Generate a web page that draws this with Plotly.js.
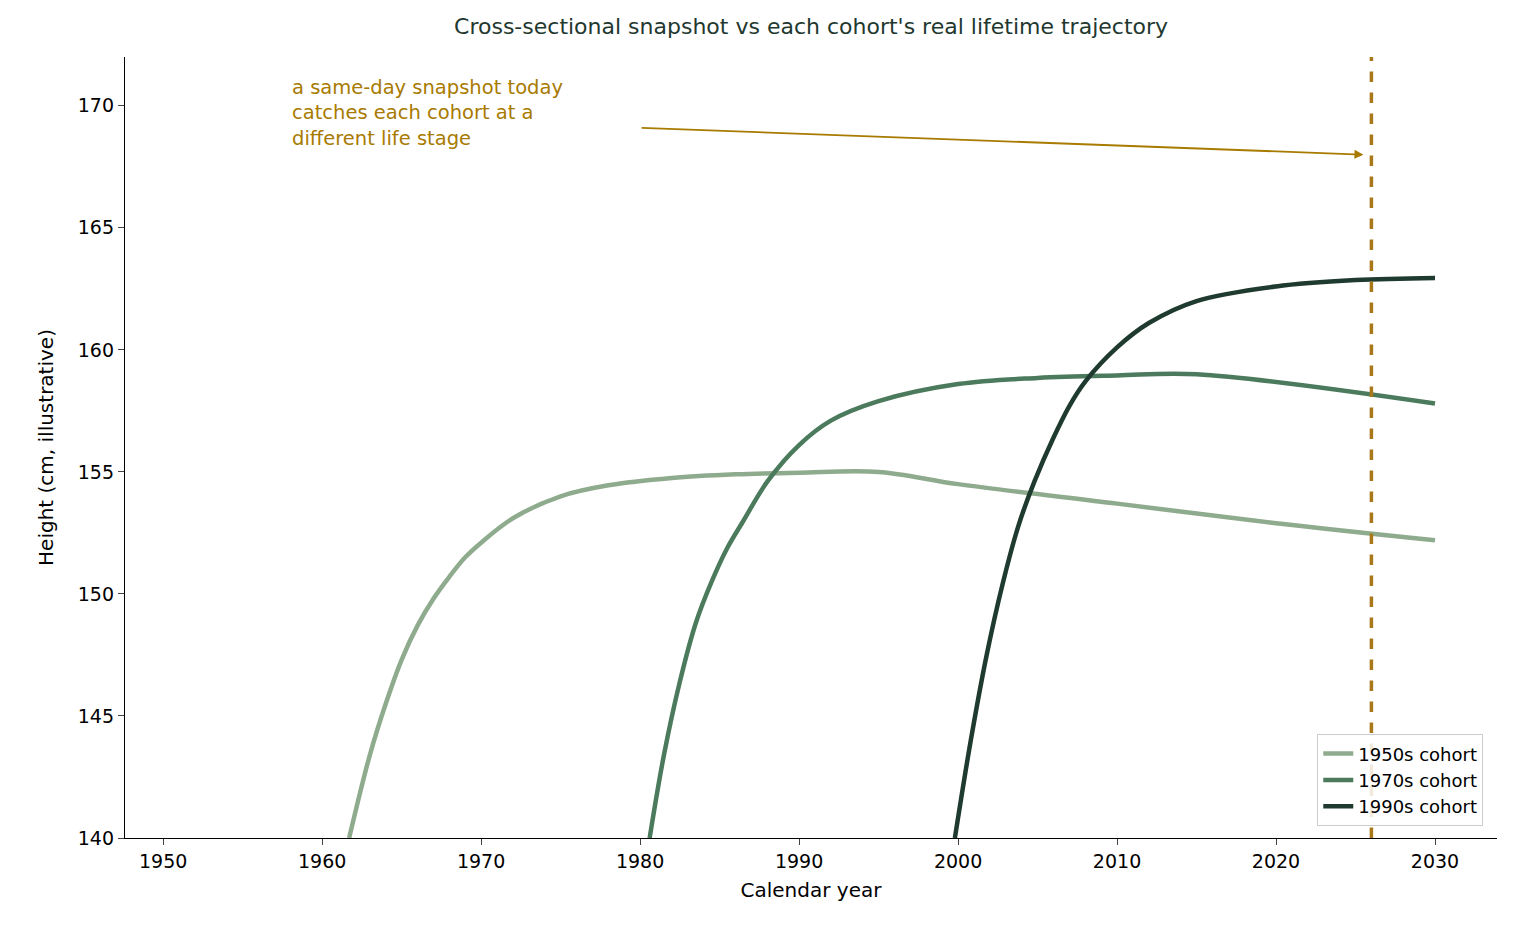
<html><head><script src="https://cdn.plot.ly/plotly-3.0.1.min.js"></script></head>
<body style="margin:0"><div id="chart" style="width:1516px;height:940px"></div>
<script>
// cohort trajectories
const years1950 = [1961.7,1963,1964,1965,1966,1967,1968,1969,1970,1972,1975,1978,1982,1986,1990,1995,2000,2010,2020,2030];
const height1950 = [140,143.4,145.5,147.3,148.7,149.8,150.7,151.5,152.1,153.1,154.0,154.45,154.75,154.9,154.97,155,154.5,153.7,152.9,152.2];
const years1970 = [1980.6,1981.5,1982.5,1983.5,1984.5,1985.5,1986.5,1988,1990,1992,1995,2000,2005,2010,2015,2030];
const height1970 = [140,143.4,146.4,148.8,150.5,151.9,153.0,154.6,156.1,157.1,157.9,158.6,158.85,158.95,159,157.8];
const years1990 = [1999.8,2000.8,2001.8,2002.8,2003.8,2004.8,2006,2007,2008,2010,2012,2015,2020,2025,2030];
const height1990 = [140,144.0,147.5,150.4,152.8,154.6,156.4,157.7,158.7,160.1,161.1,162.0,162.6,162.86,162.95];
const snapshotYear = 2026;
const cohortNames = ['1950s cohort','1970s cohort','1990s cohort'];
const colors = ['#8fab8d','#4b7a5d','#1f3a2e'];

const series = [[years1950,height1950],[years1970,height1970],[years1990,height1990]];
const traces = series.map((s,i) => ({
    x: s[0], y: s[1], mode: 'lines', name: cohortNames[i],
    line: {color: colors[i], width: 4.5, shape: 'spline', smoothing: 1}
}));

const layout = {
    width: 1516, height: 940,
    margin: {l: 125, r: 19, t: 57, b: 102},
    paper_bgcolor: 'white', plot_bgcolor: 'white',
    font: {family: 'DejaVu Sans', size: 19, color: '#000'},
    title: {text: "Cross-sectional snapshot vs each cohort's real lifetime trajectory",
            font: {size: 22, color: '#22382f'}, x: 0.535, xanchor: 'center', y: 0.98, yanchor: 'top'},
    xaxis: {range: [1947.6, 2033.9], tickvals: [1950,1960,1970,1980,1990,2000,2010,2020,2030],
            showgrid: false, zeroline: false, showline: true, linecolor: '#000', linewidth: 1.3,
            ticks: 'outside', ticklen: 6, title: {text: 'Calendar year', font: {size: 20}, standoff: 12}},
    yaxis: {range: [140, 172], tickvals: [140,145,150,155,160,165,170],
            showgrid: false, zeroline: false, showline: true, linecolor: '#000', linewidth: 1.3,
            ticks: 'outside', ticklen: 6, title: {text: 'Height (cm, illustrative)', font: {size: 20}, standoff: 18}},
    legend: {x: 0.99, y: 0.015, xanchor: 'right', yanchor: 'bottom', bordercolor: '#ccc', borderwidth: 1,
             bgcolor: 'rgba(255,255,255,0.85)', font: {size: 18}},
    shapes: [{type: 'line', xref: 'x', yref: 'paper', x0: snapshotYear, x1: snapshotYear, y0: 0, y1: 1,
              line: {color: '#a8781a', width: 3.5, dash: 'dash'}}],
    annotations: [
        {x: 1958, y: 171.3, xref: 'x', yref: 'y', xanchor: 'left', yanchor: 'top', align: 'left', showarrow: false,
         text: 'a same-day snapshot today<br>catches each cohort at a<br>different life stage',
         font: {size: 19.5, color: '#a87a00'}},
        {x: 2025.5, y: 168, ax: 1980, ay: 169.1, xref: 'x', yref: 'y', axref: 'x', ayref: 'y', text: '',
         showarrow: true, arrowhead: 2, arrowsize: 1, arrowwidth: 1.8, arrowcolor: '#a87a00'}
    ]
};
Plotly.newPlot('chart', traces, layout, {displayModeBar: false});
</script></body></html>
